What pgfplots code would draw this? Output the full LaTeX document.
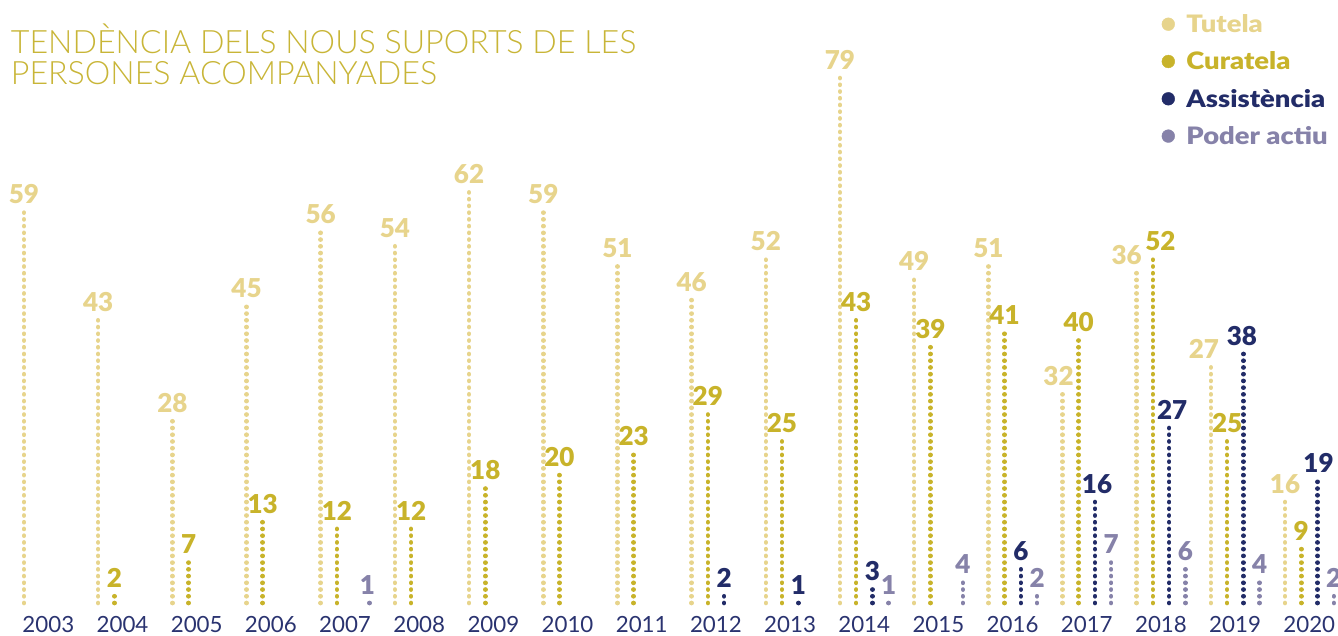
\documentclass[border=0pt]{standalone}
\usepackage{pgfplots}
\pgfplotsset{compat=1.18}
\usepackage{pgfplotstable}
\usepackage{fontspec}
\setmainfont{Lato}
\newfontfamily\lightfont{Lato Light}
\newfontfamily\heavyfont{Lato Black}
\newfontfamily\heavywide{Lato Black}[FakeStretch=1.14]
\definecolor{tut}{HTML}{E7D48C}
\definecolor{cur}{HTML}{C8B32A}
\definecolor{ass}{HTML}{222C68}
\definecolor{pod}{HTML}{8682A9}
\definecolor{titcol}{HTML}{C8B537}
\definecolor{yearcol}{HTML}{2A3370}

% x = year, y = dots drawn, lab = printed value, dx = label shift (pt)
\pgfplotstableread{
x y lab dx
2003 59 59 0
2004 43 43 0
2005 28 28 0
2006 45 45 0
2007 56 56 0
2008 54 54 0
2009 62 62 0
2010 59 59 0
2011 51 51 0
2012 46 46 0
2013 52 52 0
2014 79 79 0
2015 49 49 0
2016 51 51 0
2017 32 32 -4
2018 50 36 -10
2019 36 27 -7
2020 16 16 0
}\tutela

\pgfplotstableread{
x y lab dx
2004 2 2 0
2005 7 7 0
2006 13 13 0
2007 12 12 0
2008 12 12 0
2009 18 18 0
2010 20 20 0
2011 23 23 0
2012 29 29 0
2013 25 25 0
2014 43 43 0
2015 39 39 0
2016 41 41 0
2017 40 40 0
2018 52 52 7.5
2019 25 25 0
2020 9 9 0
}\curatela

\pgfplotstableread{
x y lab dx
2012 2 2 0
2013 1 1 0
2014 3 3 0
2016 6 6 0
2017 16 16 2
2018 27 27 3
2019 38 38 -1.5
2020 19 19 1
}\assist

\pgfplotstableread{
x y lab dx
2007 1 1 -2
2014 1 1 0
2015 4 4 0
2016 2 2 0
2017 7 7 0
2018 6 6 0
2019 4 4 0
2020 2 2 0
}\poder

\begin{document}
\begin{tikzpicture}
\path[use as bounding box] (0,0) rectangle (1338pt,635pt);
\begin{axis}[
  at={(0pt,0pt)}, anchor=south west,
  scale only axis, width=1338pt, height=635pt,
  xmin=2002.3482, xmax=2020.3854, ymin=-4.2548, ymax=90.098,
  clip=false,
  axis line style={draw=none},
  ytick=\empty,
  xtick={2003,2004,...,2020},
  xticklabels={2003,2004,2005,2006,2007,2008,2009,2010,2011,2012,2013,2014,2015,2016,2017,2018,2019,2020},
  major tick length=0pt,
  xticklabel style={anchor=base, yshift=2.5pt, font=\fontsize{22.3}{22.3}\selectfont, text=yearcol, inner sep=0pt, text depth=0pt},
  dotcol/.style={forget plot, ycomb, mark=none,
     line width=4.5pt, line cap=round,
     dash pattern=on 0.2pt off 6.53pt, dash phase=3.465pt,
     point meta=explicit,
     visualization depends on={\thisrow{dx} \as \dx},
     nodes near coords={\pgfmathprintnumber{\pgfplotspointmeta}},
     every node near coord/.append style={anchor=base, yshift=5.6pt, xshift=\dx pt,
        font=\heavyfont\fontsize{26}{26}\selectfont, inner sep=0pt, solid,
        /pgf/number format/assume math mode=true}},
  legend cell align=left,
  legend style={draw=none, fill=none, at={(rel axis cs:0.86824,0.97528)}, anchor=north west,
     inner sep=0pt, outer sep=0pt, row sep=20.3pt, column sep=11.5pt,
     font=\heavywide\fontsize{24}{24}\selectfont,
     nodes={inner sep=0pt, text height=17pt, text depth=0pt}},
]
\addplot[dotcol, color=tut, xshift=-24.35pt] table[x=x,y=y,meta=lab]{\tutela};
\addplot[dotcol, color=cur, xshift=-8.15pt] table[x=x,y=y,meta=lab]{\curatela};
\addplot[dotcol, color=ass, xshift=8.15pt] table[x=x,y=y,meta=lab]{\assist};
\addplot[dotcol, color=pod, xshift=24.35pt] table[x=x,y=y,meta=lab]{\poder};
\addlegendimage{color=tut, legend image code/.code={\fill[solid] (0pt,0pt) circle (6.4pt);}}
\addlegendentry{\textcolor{tut}{Tutela}}
\addlegendimage{color=cur, legend image code/.code={\fill[solid] (0pt,0pt) circle (6.4pt);}}
\addlegendentry{\textcolor{cur}{Curatela}}
\addlegendimage{color=ass, legend image code/.code={\fill[solid] (0pt,0pt) circle (6.4pt);}}
\addlegendentry{\textcolor{ass}{Assistència}}
\addlegendimage{color=pod, legend image code/.code={\fill[solid] (0pt,0pt) circle (6.4pt);}}
\addlegendentry{\textcolor{pod}{Poder actiu}}
\end{axis}
\node[anchor=base west, inner sep=0pt, text=titcol, font=\lightfont\fontsize{32.2}{32.2}\selectfont] at (10.7pt,581.7pt) {TENDÈNCIA DELS NOUS SUPORTS DE LES};
\node[anchor=base west, inner sep=0pt, text=titcol, font=\lightfont\fontsize{32.2}{32.2}\selectfont] at (10.7pt,550.7pt) {PERSONES ACOMPANYADES};
\end{tikzpicture}
\end{document}
